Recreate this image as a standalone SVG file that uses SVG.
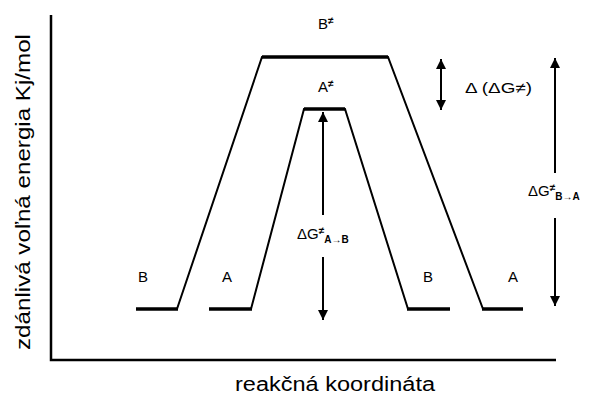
<svg xmlns="http://www.w3.org/2000/svg" width="590" height="396" viewBox="0 0 590 396">
<style>
.lbl{font-family:"Liberation Sans",Arial,sans-serif;font-size:15px;fill:#000}
.sup{font-size:10px;font-weight:bold}
.sub{font-size:10px;font-weight:bold}
.ax{font-family:"Liberation Sans",Arial,sans-serif;font-size:20px;fill:#000}
.slope{fill:none;stroke:#000;stroke-width:2}
.plat{fill:none;stroke:#000;stroke-width:3.5}
.arr{fill:none;stroke:#000;stroke-width:2}
</style>
<defs>
<marker id="ah" viewBox="0 0 10 10" refX="10" refY="5" markerWidth="5" markerHeight="6" markerUnits="strokeWidth" orient="auto-start-reverse">
<path d="M0,0 L10,5 L0,10 Z" fill="#000"/>
</marker>
</defs>
<rect width="590" height="396" fill="#fff"/>
<g id="axes">
<polyline points="51,15 51,360 556,360" fill="none" stroke="#000" stroke-width="2.5"/>
<text class="ax" transform="translate(30,350) rotate(-90)" textLength="316" lengthAdjust="spacingAndGlyphs">zdánlivá voľná energia Kj/mol</text>
<text class="ax" x="235" y="391" textLength="200" lengthAdjust="spacingAndGlyphs">reakčná koordináta</text>
</g>
<g id="curveB">
<polyline class="slope" points="177,309 262,57 388,57 483,309"/>
<line class="plat" x1="136" y1="309" x2="178" y2="309"/>
<line class="plat" x1="262" y1="57" x2="388" y2="57"/>
<line class="plat" x1="482" y1="309" x2="523" y2="309"/>
</g>
<g id="curveA">
<polyline class="slope" points="251,309 304,109 345,109 408,309"/>
<line class="plat" x1="209" y1="309" x2="252" y2="309"/>
<line class="plat" x1="304" y1="109" x2="345" y2="109"/>
<line class="plat" x1="407" y1="309" x2="450" y2="309"/>
</g>
<g id="labels">
<text class="lbl" x="318" y="29">B<tspan class="sup" dy="-5">≠</tspan></text>
<text class="lbl" x="318" y="92">A<tspan class="sup" dy="-5">≠</tspan></text>
<text class="lbl" x="138" y="282">B</text>
<text class="lbl" x="222" y="282">A</text>
<text class="lbl" x="423" y="282">B</text>
<text class="lbl" x="508" y="282">A</text>
<text class="lbl" x="465" y="93" textLength="67" lengthAdjust="spacingAndGlyphs">Δ (ΔG≠)</text>
<text class="lbl" x="297" y="239">ΔG<tspan class="sup" dy="-5">≠</tspan><tspan class="sub" dy="9">A→B</tspan></text>
<text class="lbl" x="528" y="196">ΔG<tspan class="sup" dy="-5">≠</tspan><tspan class="sub" dy="9">B→A</tspan></text>
</g>
<g id="connectors">
<line class="arr" x1="323" y1="215" x2="323" y2="112" marker-end="url(#ah)"/>
<line class="arr" x1="323" y1="257" x2="323" y2="320" marker-end="url(#ah)"/>
<line class="arr" x1="441" y1="59" x2="441" y2="110" marker-start="url(#ah)" marker-end="url(#ah)"/>
<line class="arr" x1="555" y1="173" x2="555" y2="58" marker-end="url(#ah)"/>
<line class="arr" x1="555" y1="218" x2="555" y2="306" marker-end="url(#ah)"/>
</g>
</svg>
